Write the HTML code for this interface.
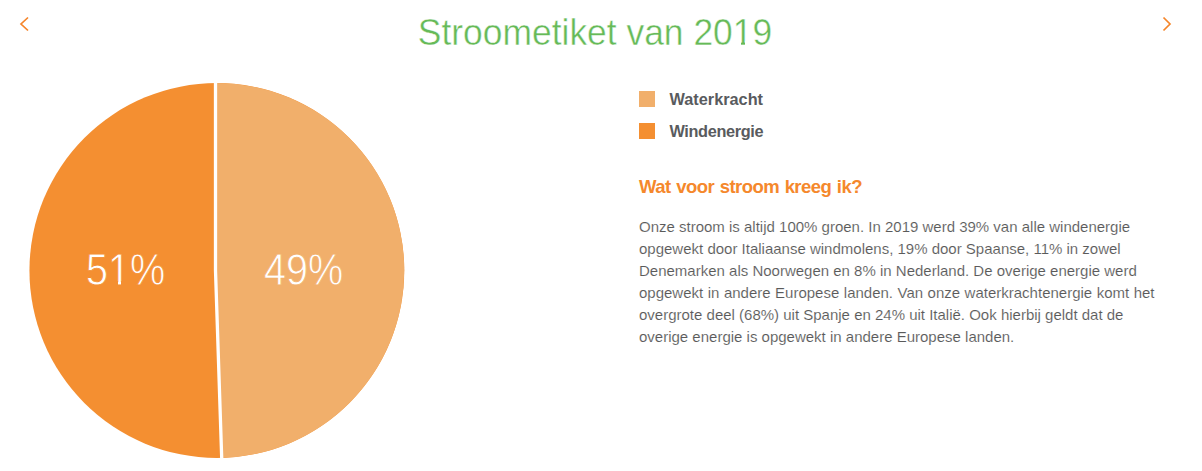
<!DOCTYPE html>
<html>
<head>
<meta charset="utf-8">
<style>
html,body{margin:0;padding:0;background:#fff;}
body{width:1202px;height:471px;position:relative;overflow:hidden;font-family:"Liberation Sans",sans-serif;}
.abs{position:absolute;}
#title{left:-6px;width:1202px;top:1.2px;text-align:center;color:#66ba58;font-size:37px;transform:scaleX(0.957);transform-origin:601px 0;line-height:64px;white-space:nowrap;-webkit-text-stroke:0.45px #fff;}
#pie{left:0;top:0;}
.lg{left:639px;width:16px;height:16px;}
.lt{left:669.5px;font-weight:bold;color:#595b5e;font-size:16.3px;white-space:nowrap;}
#q{left:639px;top:176px;color:#f5882c;font-weight:bold;font-size:18.5px;letter-spacing:-0.55px;word-spacing:1px;white-space:nowrap;}
#p{left:639px;top:216px;color:#5a5a5a;font-size:15px;line-height:22px;white-space:nowrap;-webkit-text-stroke:0.12px #fff;}
.pl{display:block;height:22px;}
.pct{color:#fff;font-size:45px;white-space:nowrap;transform:scaleX(0.88);transform-origin:0 0;}
</style>
</head>
<body>
<svg id="pie" class="abs" width="1202" height="471" viewBox="0 0 1202 471">
  <circle cx="216.85" cy="270.5" r="187.4" fill="#f48f31"/>
  <path d="M215.5 270.5 L215.5 83.105 A187.4 187.4 0 0 1 221.693 457.837 Z" fill="#f1af6b"/>
  <path d="M215.5 80 L215.5 270.5 L221.8 461" fill="none" stroke="#fff" stroke-width="3.3"/>
  <!-- chevrons -->
  <path d="M28 17.5 L21 24 L28 30.5" fill="none" stroke="#f5852a" stroke-width="1.7"/>
  <path d="M1163.5 17.5 L1170 24 L1163.5 30.5" fill="none" stroke="#f5852a" stroke-width="1.7"/>
</svg>
<div id="title" class="abs">Stroometiket van 2019</div>
<div class="abs pct" style="left:85.5px;top:244px;-webkit-text-stroke:0.8px #f48f31;">51%</div>
<div class="abs pct" style="left:264px;top:244px;-webkit-text-stroke:0.8px #f1af6b;">49%</div>
<div class="abs" style="left:734px;top:41px;width:7px;height:4.5px;background:#fff;"></div>
<div class="abs" style="left:745px;top:41px;width:7px;height:4.5px;background:#fff;"></div>
<div class="abs" style="left:109px;top:281px;width:9px;height:5px;background:#f48f31;"></div>
<div class="abs" style="left:121px;top:281px;width:8px;height:5px;background:#f48f31;"></div>
<div class="abs lg" style="top:91px;height:15.5px;background:#f1af6b;"></div>
<div class="abs lg" style="top:123px;height:15.5px;background:#f48f31;"></div>
<div class="abs lt" style="top:90px;letter-spacing:0px;">Waterkracht</div>
<div class="abs lt" style="top:122.3px;letter-spacing:-0.36px;">Windenergie</div>
<div id="q" class="abs">Wat voor stroom kreeg ik?</div>
<div id="p" class="abs">
<span class="pl">Onze stroom is altijd 100% groen. In 2019 werd 39% van alle windenergie</span>
<span class="pl">opgewekt door Italiaanse windmolens, 19% door Spaanse, 11% in zowel</span>
<span class="pl">Denemarken als Noorwegen en 8% in Nederland. De overige energie werd</span>
<span class="pl" style="word-spacing:0.33px">opgewekt in andere Europese landen. Van onze waterkrachtenergie komt het</span>
<span class="pl">overgrote deel (68%) uit Spanje en 24% uit Italië. Ook hierbij geldt dat de</span>
<span class="pl">overige energie is opgewekt in andere Europese landen.</span>
</div>
</body>
</html>
